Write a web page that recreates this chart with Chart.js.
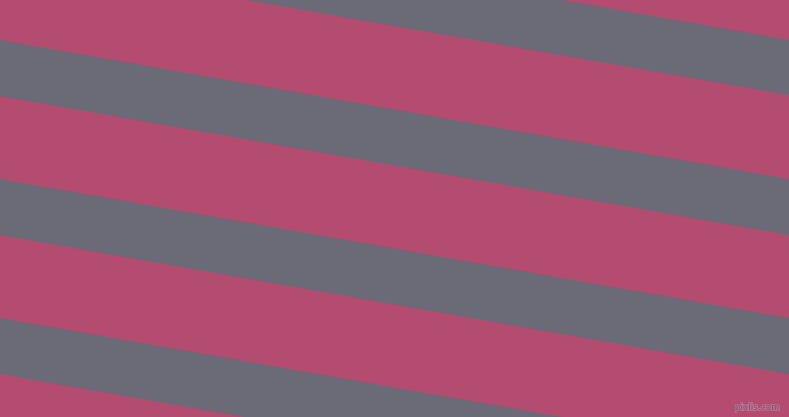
<!DOCTYPE html>
<html>
<head>
<meta charset="utf-8">
<script src="https://cdn.jsdelivr.net/npm/chart.js@4"></script>
<style>
html,body{margin:0;padding:0;background:#b44b71;overflow:hidden;}
#wrap{position:relative;width:789px;height:417px;}
</style>
</head>
<body>
<div id="wrap"><canvas id="c"></canvas></div>
<script>
// x positions of the stripe edge end points (left and right edge of the picture)
const xEnds = [0, 789];
// y of each gray stripe's upper and lower edge at the left (x=0) and right (x=789)
const stripeTopLeft = [-99, 40, 179, 318];
const stripeTopRight = [40, 179, 318, 457];
const stripeBottomLeft = [-43, 96, 235, 374];
const stripeBottomRight = [95, 235, 374, 513];
const pinkColor = '#b44b71';
const grayColor = '#6a6b76';
const watermark = 'pixlis.com';

const datasets = [];
for (let i = 0; i < stripeTopLeft.length; i++) {
  datasets.push({
    data: [{x: xEnds[0], y: stripeTopLeft[i]}, {x: xEnds[1], y: stripeTopRight[i]}],
    fill: '+1',
    backgroundColor: grayColor,
    borderWidth: 0,
    pointRadius: 0,
    tension: 0
  });
  datasets.push({
    data: [{x: xEnds[0], y: stripeBottomLeft[i]}, {x: xEnds[1], y: stripeBottomRight[i]}],
    fill: false,
    borderWidth: 0,
    pointRadius: 0,
    tension: 0
  });
}

const bgPlugin = {
  id: 'bg',
  beforeDraw(chart) {
    const ctx = chart.ctx;
    ctx.save();
    ctx.fillStyle = pinkColor;
    ctx.fillRect(0, 0, chart.width, chart.height);
    ctx.restore();
  },
  afterDraw(chart) {
    const ctx = chart.ctx;
    ctx.save();
    ctx.font = '9px "DejaVu Sans"';
    ctx.textAlign = 'right';
    ctx.textBaseline = 'alphabetic';
    ctx.lineWidth = 1.5;
    ctx.strokeStyle = 'rgba(215,140,170,0.6)';
    ctx.strokeText(watermark, 780, 410);
    ctx.fillStyle = 'rgba(100,95,110,0.9)';
    ctx.fillText(watermark, 780, 410);
    ctx.restore();
  }
};

new Chart(document.getElementById('c'), {
  type: 'line',
  data: { datasets },
  options: {
    responsive: true,
    maintainAspectRatio: false,
    animation: false,
    layout: { padding: 0 },
    plugins: { legend: { display: false }, tooltip: { enabled: false } },
    scales: {
      x: { type: 'linear', min: 0, max: 789, display: false },
      y: { type: 'linear', min: 0, max: 417, reverse: true, display: false }
    }
  },
  plugins: [bgPlugin]
});
</script>
</body>
</html>
